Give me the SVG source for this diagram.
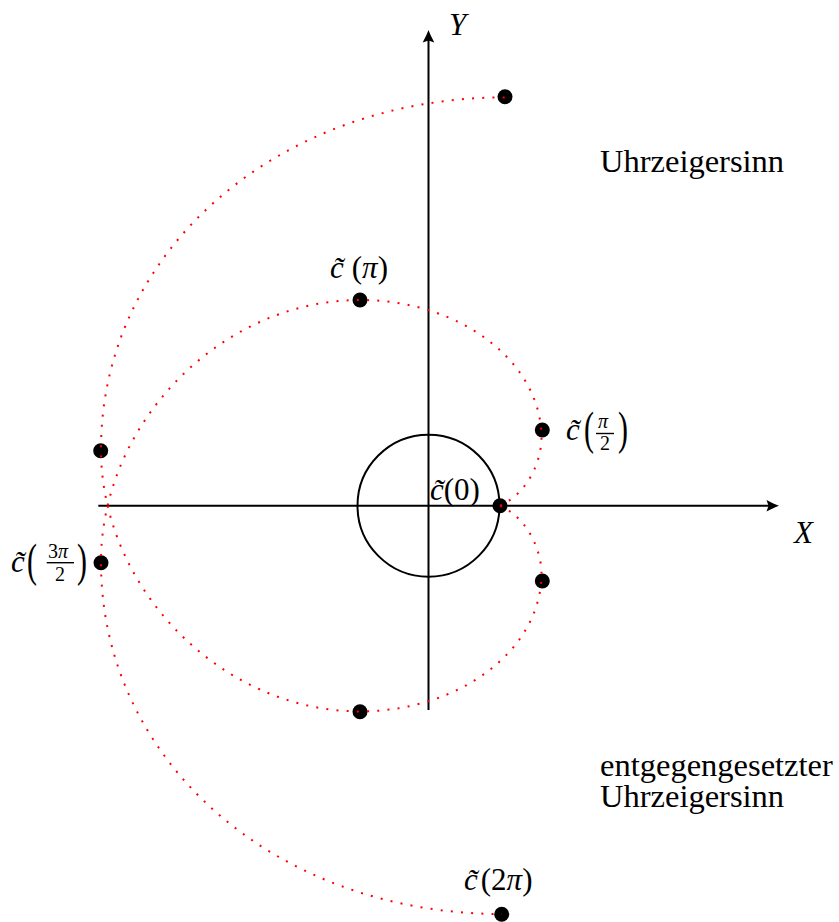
<svg xmlns="http://www.w3.org/2000/svg" width="839" height="922" viewBox="0 0 839 922">
<style>
.ax{stroke:#000;stroke-width:2;fill:none}
.curve{stroke:#f00;stroke-width:2;fill:none;stroke-dasharray:2 8.2}
.pt{fill:#000}
.t{font-family:"Liberation Serif","Times New Roman",serif;fill:#000}
.m{font-family:"Liberation Serif","Times New Roman",serif;font-style:italic;fill:#000}
.big{font-family:"Liberation Serif","Times New Roman",serif;font-size:46px;fill:#000}
.fr{stroke:#000;stroke-width:1.4}
</style>
<defs>
<marker id="arr" viewBox="-10 -7 15 14" markerWidth="15" markerHeight="14" refX="0" refY="0" orient="auto" markerUnits="userSpaceOnUse">
<path d="M4,0 C1,-1 -4,-3.5 -8.5,-5.8 L-6.5,0 L-8.5,5.8 C-4,3.5 1,1 4,0 Z" fill="#000"/>
</marker>
</defs>
<g id="axes">
<line class="ax" x1="98.3" y1="505.7" x2="775" y2="505.7" marker-end="url(#arr)"/>
<line class="ax" x1="428.5" y1="710" x2="428.5" y2="34" marker-end="url(#arr)"/>
<circle class="ax" cx="428.5" cy="505.7" r="71"/>
</g>
<g id="points">
<circle class="pt" cx="505" cy="96.7" r="7.5"/>
<circle class="pt" cx="360" cy="300" r="7.5"/>
<circle class="pt" cx="542.3" cy="430" r="7.5"/>
<circle class="pt" cx="500" cy="505.7" r="7.5"/>
<circle class="pt" cx="542.3" cy="581" r="7.5"/>
<circle class="pt" cx="360" cy="711.7" r="7.5"/>
<circle class="pt" cx="101" cy="562.7" r="7.5"/>
<circle class="pt" cx="100.7" cy="450.7" r="7.5"/>
<circle class="pt" cx="501.7" cy="914.3" r="7.5"/>
</g>
<g id="connectors">
<path class="curve" d="M500,505.7 C530,492 541.5,458 541.5,438 C541.5,361.8 460.2,300 360,300 C222,300 101,422.4 101,562 C101,760.9 275.4,914 502,914"/>
<path class="curve" d="M500,505.7 C530,519.4 541.5,553.4 541.5,573.4 C541.5,649.6 460.2,711.4 360,711.4 C222,711.4 101,589 101,449.4 C101,250.5 278.4,97.4 505,97.4"/>
</g>
<g id="labels">
<text class="m" x="449" y="35" font-size="31">Y</text>
<text class="m" x="794" y="543" font-size="31">X</text>
<text class="t" x="330" y="278" font-size="31"><tspan class="m">c̃</tspan><tspan dx="8">(</tspan><tspan class="m">π</tspan>)</text>
<text class="t" x="430" y="500" font-size="31"><tspan class="m">c̃</tspan>(0)</text>
<text class="t" x="464" y="890" font-size="31"><tspan class="m">c̃</tspan><tspan dx="3">(2</tspan><tspan class="m">π</tspan>)</text>
<g id="label-pi2">
<text class="m" x="566" y="440" font-size="31">c̃</text>
<text class="big" transform="translate(584,444) scale(0.65,1)">(</text>
<text class="m" x="598" y="428" font-size="20">π</text>
<line class="fr" x1="596" y1="433.5" x2="614" y2="433.5"/>
<text class="t" x="600" y="450" font-size="20">2</text>
<text class="big" transform="translate(618,444) scale(0.65,1)">)</text>
</g>
<g id="label-3pi2">
<text class="m" x="11" y="572" font-size="31">c̃</text>
<text class="big" transform="translate(27,576) scale(0.65,1)">(</text>
<text class="t" x="48" y="558" font-size="20">3<tspan class="m">π</tspan></text>
<line class="fr" x1="46.7" y1="562.7" x2="74" y2="562.7"/>
<text class="t" x="55" y="581" font-size="20">2</text>
<text class="big" transform="translate(77,576) scale(0.65,1)">)</text>
</g>
<text class="t" x="600" y="172" font-size="32.5">Uhrzeigersinn</text>
<text class="t" x="600" y="776" font-size="32.5">entgegengesetzter</text>
<text class="t" x="600" y="807" font-size="32.5">Uhrzeigersinn</text>
</g>
</svg>
